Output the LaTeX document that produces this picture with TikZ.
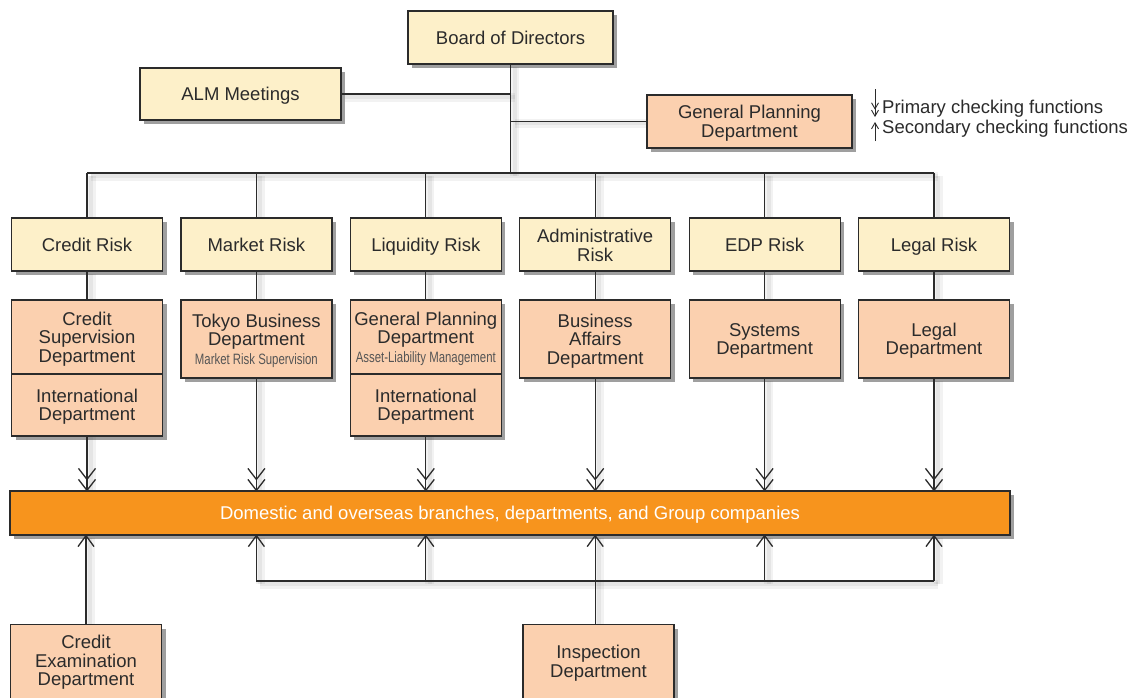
\documentclass[tikz,border=0pt]{standalone}
\usepackage{fontspec}
\setmainfont{Liberation Sans}
\newfontfamily\narrowfont[FakeStretch=0.76]{Liberation Sans}
\usetikzlibrary{arrows.meta,shadows}
\definecolor{ylw}{HTML}{FDF0C9}
\definecolor{pch}{HTML}{FBD0AF}
\definecolor{org}{HTML}{F7941D}
\definecolor{ink}{HTML}{2B2B2B}
\newcommand{\subtxt}{\narrowfont\fontsize{15}{16}\selectfont\color{ink!80}}
\tikzset{
 base/.style={draw=ink, line width=1.2pt, text=ink, font=\fontsize{18.5}{18.5}\selectfont, align=center, inner sep=0pt,
   drop shadow={shadow xshift=4pt, shadow yshift=-4pt, opacity=0.5, fill=black!75}},
 one/.style={text height=15pt, text depth=1.7pt},
 multi/.style={text depth=0pt},
 riskbox/.style={base, fill=ylw, minimum width=151pt, minimum height=53pt},
 deptbox/.style={base, fill=pch, minimum width=151pt},
 conn/.style={draw=ink, line width=1.2pt},
 chevron/.style={draw=ink, line width=1.3pt, line join=miter},
 lshadow/.style={preaction={draw=black, draw opacity=0.05, line width=9pt, transform canvas={shift={(4pt,-3pt)}}},
                 preaction={draw=black, draw opacity=0.05, line width=4pt, transform canvas={shift={(4pt,-3pt)}}}},
 dnsmall/.style={conn, line width=0.9pt, -{Straight Barb[length=6pt,width=7pt,sep=0pt] Straight Barb[length=6pt,width=7pt]}},
 upsmall/.style={conn, line width=0.9pt, -{Straight Barb[length=6pt,width=7pt]}},
 legend/.style={text=ink, font=\fontsize{18.5}{18.5}\selectfont, inner sep=0pt, anchor=west},
}
\begin{document}
\begin{tikzpicture}[x=1pt,y=-1pt]
\useasboundingbox[fill=white] (0,0) rectangle (1145,697);

% soft shadows of the connectors (drawn first, under the boxes)
\draw[lshadow, draw=none] (510.5,64) -- (510.5,173);
\draw[lshadow, draw=none] (341,94) -- (510.5,94);
\draw[lshadow, draw=none] (510.5,120) -- (647,120);
\draw[lshadow, draw=none] (87,173) -- (934,173);
\foreach \xx in {87,256.4,425.8,595.2,764.6,934} {
  \draw[lshadow, draw=none] (\xx,173) -- (\xx,218);
  \draw[lshadow, draw=none] (\xx,271) -- (\xx,300);
  \draw[lshadow, draw=none] (\xx,378) -- (\xx,491);
}
\draw[lshadow, draw=none] (256.4,581) -- (934,581);
\foreach \xx in {256.4,425.8,764.6,934} \draw[lshadow, draw=none] (\xx,581) -- (\xx,535);
\draw[lshadow, draw=none] (595.2,624) -- (595.2,535);
\draw[lshadow, draw=none] (86,624) -- (86,535);

% top level
\node[riskbox, one, minimum width=205pt] (board) at (510.5,37.5) {Board of Directors};
\node[riskbox, one, minimum width=201pt, minimum height=52pt] (alm) at (240.5,94) {ALM Meetings};
\node[deptbox, multi, minimum width=205pt, minimum height=53pt] (gpd) at (749.5,121.5) {General Planning\\Department};
\coordinate (bus) at (510.5,173);

% risk boxes
\node[riskbox, one] (cr) at (87,244.5) {Credit Risk};
\node[riskbox, one] (mr) at (256.4,244.5) {Market Risk};
\node[riskbox, one] (lr) at (425.8,244.5) {Liquidity Risk};
\node[riskbox] (ar) at (595.2,244.5) {\rule{0pt}{15pt}Administrative\\Risk};
\node[riskbox, one] (er) at (764.6,244.5) {EDP Risk};
\node[riskbox, one] (gr) at (934,244.5) {Legal Risk};

% departments
\node[deptbox, multi, minimum height=74pt] (csd) at (87,337) {Credit\\Supervision\\Department};
\node[deptbox, multi, minimum height=62pt] (id1) at (87,405) {International\\Department};
\node[deptbox, multi, minimum height=78pt] (tbd) at (256.4,339) {Tokyo Business\\Department\\{\subtxt Market Risk Supervision}};
\node[deptbox, multi, minimum height=74pt] (gpd2) at (425.8,337) {General Planning\\Department\\{\subtxt Asset-Liability Management}};
\node[deptbox, multi, minimum height=62pt] (id2) at (425.8,405) {International\\Department};
\node[deptbox, multi, minimum height=78pt] (bad) at (595.2,339) {Business\\Affairs\\Department};
\node[deptbox, multi, minimum height=78pt] (sd) at (764.6,339) {Systems\\Department};
\node[deptbox, multi, minimum height=78pt] (ld) at (934,339) {Legal\\Department};

% bar
\node[base, fill=org, text=white, one, minimum width=1000pt, minimum height=44pt] (bar) at (510,513)
  {Domestic and overseas branches, departments, and Group companies};

% bottom boxes
\node[deptbox, minimum width=151pt, minimum height=90pt, anchor=north] (ced) at (86,624) {};
\node[text=ink, font=\fontsize{18.5}{18.5}\selectfont, align=center, inner sep=0pt] (cedt) at (86,662.5) {Credit\\Examination\\Department};
\node[deptbox, minimum width=151pt, minimum height=90pt, anchor=north] (insp) at (598.5,624) {};
\node[text=ink, font=\fontsize{18.5}{18.5}\selectfont, align=center, inner sep=0pt] (inspt) at (598.5,663) {Inspection\\Department};

% connectors
\draw[conn] (board.south) -- (bus);
\draw[conn] (alm.east) -- (alm.east -| board.south);
\draw[conn] (gpd.west) -- (gpd.west -| board.south);
\draw[conn] (cr.north |- bus) -- (gr.north |- bus);
\foreach \n in {cr,mr,lr,ar,er,gr} \draw[conn] (\n.north) -- (\n.north |- bus);
\draw[conn] (cr.south) -- (csd.north);
\draw[conn] (mr.south) -- (tbd.north);
\draw[conn] (lr.south) -- (gpd2.north);
\draw[conn] (ar.south) -- (bad.north);
\draw[conn] (er.south) -- (sd.north);
\draw[conn] (gr.south) -- (ld.north);

% dept to bar, with double open chevrons
\foreach \n in {id1,tbd,id2,bad,sd,ld} {
  \coordinate (t\n) at (\n.south |- bar.north);
  \draw[conn] (\n.south) -- (t\n);
  \draw[chevron] ([shift={(-8.5,-11)}]t\n) -- (t\n) -- ([shift={(8.5,-11)}]t\n);
  \draw[chevron] ([shift={(-8.5,-22)}]t\n) -- ([shift={(0,-11)}]t\n) -- ([shift={(8.5,-22)}]t\n);
}

% up arrows
\coordinate (bb) at (595.2,581);
\draw[conn] (mr.south |- bb) -- (gr.south |- bb);
\foreach \n in {mr,lr,er,gr} {
  \coordinate (u\n) at (\n.south |- bar.south);
  \draw[conn] (\n.south |- bb) -- (u\n);
  \draw[chevron] ([shift={(-8,11)}]u\n) -- (u\n) -- ([shift={(8,11)}]u\n);
}
\coordinate (uinsp) at ([xshift=-3.3pt]insp.north |- bar.south);
\draw[conn] ([xshift=-3.3pt]insp.north) -- (uinsp);
\draw[chevron] ([shift={(-8,11)}]uinsp) -- (uinsp) -- ([shift={(8,11)}]uinsp);
\coordinate (uced) at (ced.north |- bar.south);
\draw[conn] (ced.north) -- (uced);
\draw[chevron] ([shift={(-8,11)}]uced) -- (uced) -- ([shift={(8,11)}]uced);

% legend
\coordinate (la) at (875,89);
\coordinate (lb) at (875,117);
\coordinate (lc) at (875,141);
\coordinate (ld2) at (875,122);
\draw[dnsmall] (la) -- (lb);
\draw[upsmall] (lc) -- (ld2);
\node[legend] (lt1) at (882,109) {Primary checking functions};
\node[legend] (lt2) at (882,129) {Secondary checking functions};
\end{tikzpicture}
\end{document}
